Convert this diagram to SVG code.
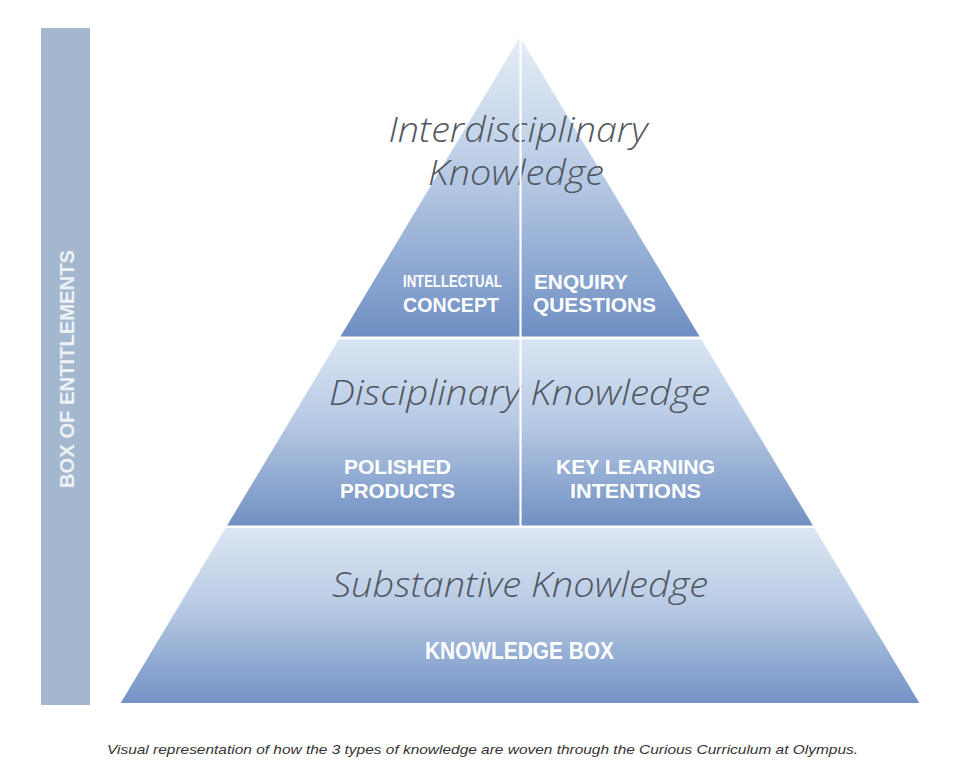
<svg xmlns="http://www.w3.org/2000/svg" width="974" height="778" viewBox="0 0 974 778">
  <defs>
    <linearGradient id="gTop" x1="0" y1="0" x2="0" y2="1">
      <stop offset="0" stop-color="#e6eef7"/>
      <stop offset="0.5" stop-color="#b3c7e3"/>
      <stop offset="1" stop-color="#6e8ec3"/>
    </linearGradient>
    <linearGradient id="gMid" x1="0" y1="0" x2="0" y2="1">
      <stop offset="0" stop-color="#d9e5f3"/>
      <stop offset="0.45" stop-color="#b6c9e4"/>
      <stop offset="1" stop-color="#7190c3"/>
    </linearGradient>
    <linearGradient id="gBot" x1="0" y1="0" x2="0" y2="1">
      <stop offset="0" stop-color="#dbe6f3"/>
      <stop offset="0.45" stop-color="#b8cae4"/>
      <stop offset="1" stop-color="#7392c5"/>
    </linearGradient>
    <style>
      .head { font-family: "Open Sans", "Noto Sans", "Liberation Sans", sans-serif; font-style: italic; font-weight: 300; font-size: 34px; fill: #52575f; text-anchor: middle; }
      .lab { font-family: "Liberation Sans", "Noto Sans", sans-serif; font-weight: 700; font-size: 21px; fill: #ffffff; }
      .small { font-size: 16px; }
      .big { font-size: 23px; }
      .bar { font-family: "Liberation Sans", "Noto Sans", sans-serif; font-weight: 700; font-size: 21px; fill: #eef2f7; text-anchor: middle; }
      .cap { font-family: "Liberation Sans", "Noto Sans", sans-serif; font-style: italic; font-size: 13.5px; fill: #333333; }
    </style>
  </defs>
  <rect width="974" height="778" fill="#ffffff"/>

  <g id="box-of-entitlements">
    <rect x="41" y="28" width="49" height="677" fill="#a3b8cf"/>
    <text class="bar" transform="translate(74,369) rotate(-90)" textLength="238" lengthAdjust="spacingAndGlyphs">BOX OF ENTITLEMENTS</text>
  </g>

  <g id="tier-interdisciplinary">
    <polygon points="520,37 699.6,336.5 340.4,336.5" fill="url(#gTop)"/>
    <text class="head" x="518" y="142" textLength="259" lengthAdjust="spacingAndGlyphs">Interdisciplinary</text>
    <text class="head" x="516" y="185" textLength="176" lengthAdjust="spacingAndGlyphs">Knowledge</text>
    <text class="lab small" transform="translate(403,287) scale(0.82,1)">INTELLECTUAL</text>
    <text class="lab" x="403" y="312" textLength="96" lengthAdjust="spacingAndGlyphs">CONCEPT</text>
    <text class="lab" x="534" y="289" textLength="94" lengthAdjust="spacingAndGlyphs">ENQUIRY</text>
    <text class="lab" x="533" y="312" textLength="123" lengthAdjust="spacingAndGlyphs">QUESTIONS</text>
  </g>

  <g id="tier-disciplinary">
    <polygon points="338.7,339.5 701.3,339.5 812.9,525.5 227.1,525.5" fill="url(#gMid)"/>
    <text class="head" x="519.5" y="405" textLength="381" lengthAdjust="spacingAndGlyphs">Disciplinary Knowledge</text>
    <text class="lab" x="344" y="474" textLength="107" lengthAdjust="spacingAndGlyphs">POLISHED</text>
    <text class="lab" x="340" y="498" textLength="115" lengthAdjust="spacingAndGlyphs">PRODUCTS</text>
    <text class="lab" x="556" y="474" textLength="159" lengthAdjust="spacingAndGlyphs">KEY LEARNING</text>
    <text class="lab" x="570" y="498" textLength="131" lengthAdjust="spacingAndGlyphs">INTENTIONS</text>
  </g>

  <g id="tier-substantive">
    <polygon points="225.6,528 814.4,528 919.3,703 120.7,703" fill="url(#gBot)"/>
    <text class="head" x="520" y="597" textLength="376" lengthAdjust="spacingAndGlyphs">Substantive Knowledge</text>
    <text class="lab big" x="425" y="659" textLength="189" lengthAdjust="spacingAndGlyphs">KNOWLEDGE BOX</text>
  </g>

  <g id="connectors">
    <line x1="520.5" y1="37" x2="520.5" y2="526" stroke="#ffffff" stroke-width="2.2"/>
  </g>

  <g id="caption">
    <text class="cap" x="107" y="754" textLength="751" lengthAdjust="spacingAndGlyphs">Visual representation of how the 3 types of knowledge are woven through the Curious Curriculum at Olympus.</text>
  </g>
</svg>
